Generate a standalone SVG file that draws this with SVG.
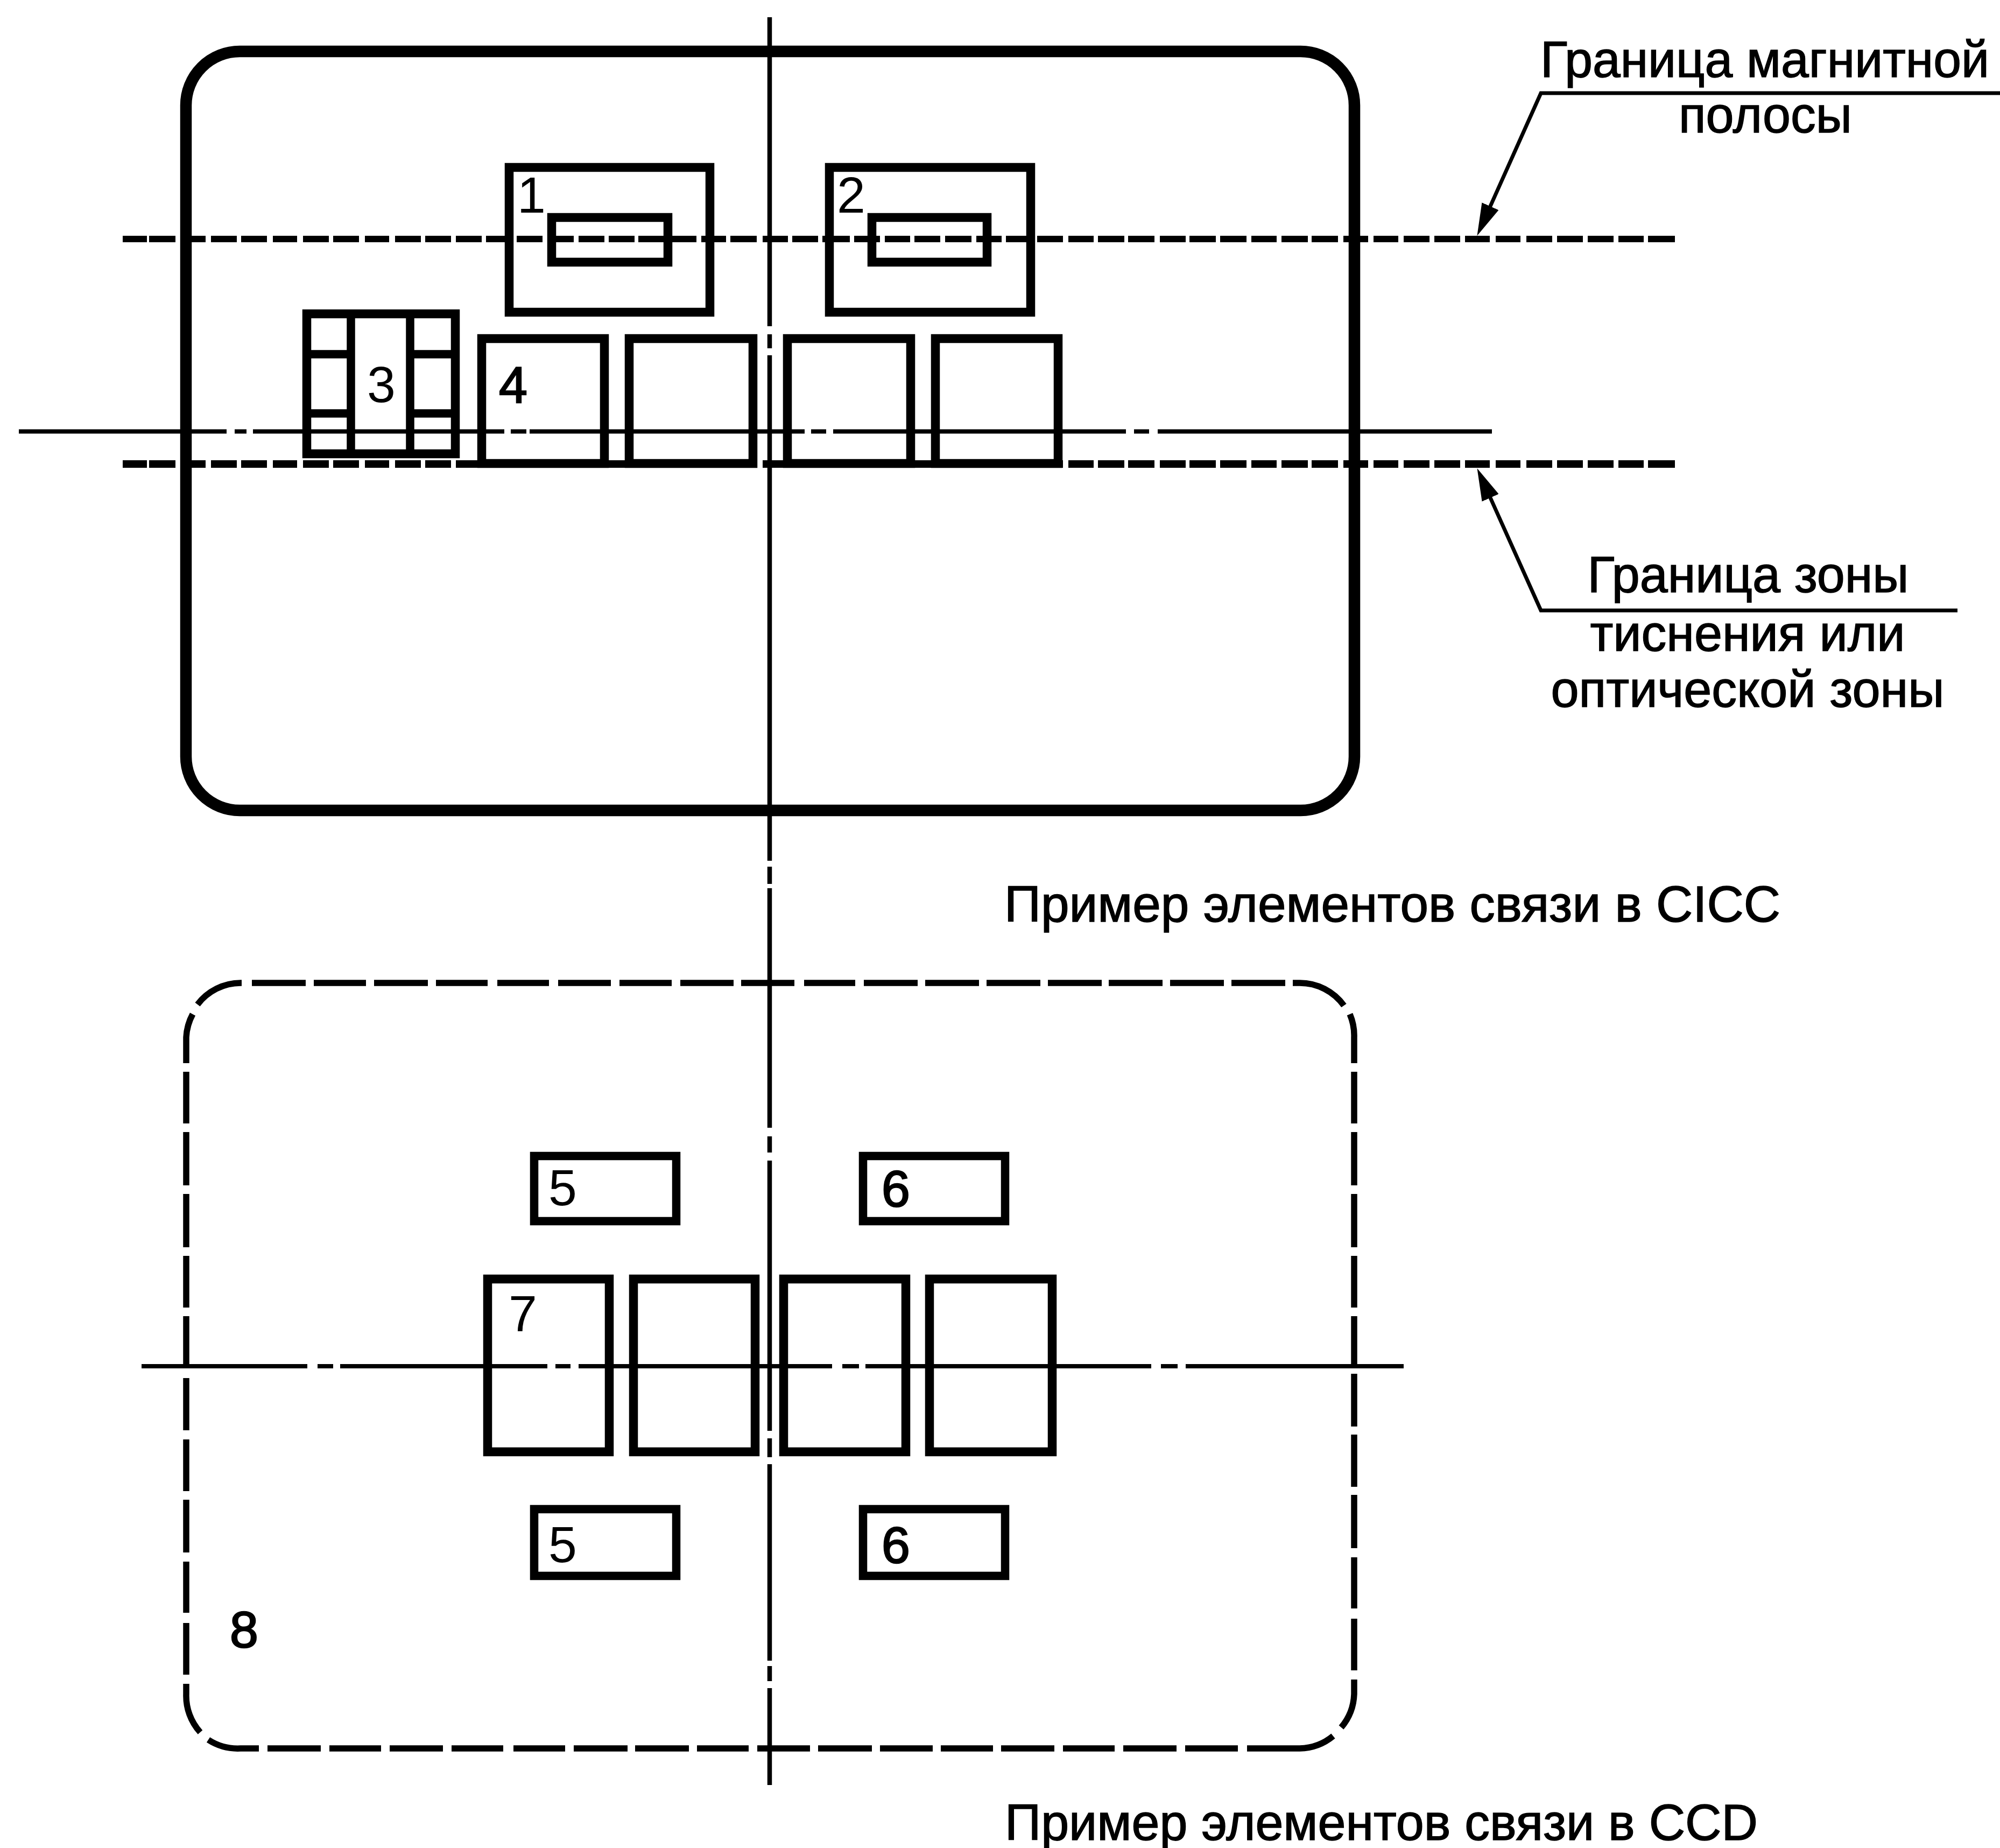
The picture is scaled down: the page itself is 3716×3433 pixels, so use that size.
<svg xmlns="http://www.w3.org/2000/svg" xmlns:xlink="http://www.w3.org/1999/xlink" width="3716" height="3433" viewBox="0 0 3716 3433">
<style>
text{font-family:"Liberation Sans",Arial,sans-serif;font-size:95px;fill:#000}
.lbl{stroke:#000;stroke-width:1.5px}
.mid{text-anchor:middle}
.heavy{stroke:#000;stroke-width:2.5px}
.box{fill:none;stroke:#000;stroke-width:16.5}
.thin{fill:none;stroke:#000;stroke-width:15.5}
.ln{fill:none;stroke:#000}
.axis{stroke-width:8.5}
.center{stroke-width:8}
.leader{stroke-width:7}
</style>
<defs>
<marker id="arrow" markerUnits="userSpaceOnUse" markerWidth="60" markerHeight="34" viewBox="0 0 60 34" refX="30" refY="17" orient="auto"><path d="M0 0L60 17L0 34Z" fill="#000"/></marker>
<path id="dashrow" d="M228 0H273M277 0H326M336 0H382M392 0H440M448 0H496M507 0H552M563 0H611M619 0H667M678 0H723M734 0H782M790 0H838M847 0H895M903 0H951M960 0H1008M1018 0H1066M1075 0H1123M1131 0H1179M1186 0H1234M1242 0H1294M1303 0H1349M1357 0H1406M1417 0H1464M1472 0H1520M1528 0H1579M1587 0H1635M1644 0H1691M1699 0H1747M1756 0H1805M1814 0H1861M1869 0H1919M1927 0H1975M1985 0H2032M2040 0H2089M2096 0H2145M2155 0H2203M2210 0H2259M2267 0H2316M2325 0H2372M2381 0H2430M2437 0H2486M2496 0H2542M2552 0H2598M2608 0H2656M2665 0H2713M2722 0H2768M2779 0H2825M2836 0H2884M2893 0H2941M2950 0H2998M3007 0H3054M3062 0H3112"/>
</defs>
<rect width="3716" height="3433" fill="#fff"/>
<g id="connectors">
<use xlink:href="#dashrow" href="#dashrow" y="444" class="ln" style="stroke-width:12"/>
<use xlink:href="#dashrow" href="#dashrow" y="862" class="ln" style="stroke-width:14"/>
<path class="ln center" d="M35 801.5H421M436 801.5H458M470 801.5H937M949 801.5H978M984 801.5H1495M1507 801.5H1535M1548 801.5H2092M2107 801.5H2135M2151 801.5H2772"/>
<path class="ln center" d="M263 2538H571M590 2538H619M632 2538H1017M1032 2538H1060M1075 2538H1546M1565 2538H1596M1608 2538H2139M2157 2538H2188M2203 2538H2608"/>
<path class="ln axis" d="M1430 32V606M1430 621V647M1430 660V1599M1430 1610V1642M1430 1650V2095M1430 2111V2141M1430 2156V2658M1430 2672V2707M1430 2720V3085M1430 3095V3123M1430 3136V3316"/>
<path class="ln leader" d="M3716 173H2863L2756.7 410.6" marker-end="url(#arrow)"/>
<path class="ln leader" d="M3637 1134H2863L2756.8 897.4" marker-end="url(#arrow)"/>
</g>
<g id="card-cicc"><rect x="345.5" y="95.5" width="2171" height="1410" rx="100" ry="100" fill="none" stroke="#000" stroke-width="21.5"/></g>
<g id="card-ccd"><path class="ln" style="stroke-width:11.5" d="M468 1826H568M583 1826H680M695 1826H795M810 1826H906M924 1826H1020M1037 1826H1135M1151 1826H1248M1264 1826H1363M1377 1826H1476M1494 1826H1589M1605 1826H1705M1719 1826H1819M1833 1826H1933M1947 1826H2047M2060 1826H2160M2174 1826H2274M2288 1826H2388M2402 1826H2415A101 101 0 0 1 2497 1868M2508 1884A101 101 0 0 1 2516 1927V1975M2516 1991V2087M2516 2103V2202M2516 2218V2317M2516 2333V2429M2516 2445V2535M2516 2552V2650M2516 2665V2762M2516 2777V2876M2516 2893V2988M2516 3007V3103M2516 3120V3147A101 101 0 0 1 2492 3209M2477 3225A101 101 0 0 1 2415 3248H2317M2300 3248H2202M2186 3248H2087M2071 3248H1975M1959 3248H1860M1845 3248H1748M1733 3248H1635M1620 3248H1520M1505 3248H1407M1391 3248H1295M1280 3248H1180M1166 3248H1066M1050 3248H954M935 3248H839M823 3248H724M708 3248H612M596 3248H497M481 3248H447A101 101 0 0 1 387 3232M372 3218A101 101 0 0 1 346 3147V3128M346 3111V3015M346 2996V2901M346 2884V2786M346 2770V2674M346 2657V2560M346 2542V2445M346 2429V2333M346 2317V2218M346 2202V2103M346 2087V1991M346 1975V1927A101 101 0 0 1 358 1884M367 1866A101 101 0 0 1 447 1826H449"/></g>
<g id="node-1"><rect class="box" x="946" y="311" width="373" height="269"/><rect class="box" x="1025" y="404" width="216" height="83"/><text x="961" y="395">1</text></g>
<g id="node-2"><rect class="box" x="1541" y="311" width="374" height="269"/><rect class="box" x="1620" y="404" width="214" height="83"/><text x="1555" y="395">2</text></g>
<g id="node-3"><rect class="box" x="570" y="583" width="276" height="260"/><path class="thin" d="M652 582V844M762 582V844M570 658H652M762 658H846M570 768H652M762 768H846"/><text x="682" y="747">3</text></g>
<g id="node-4a"><rect class="box" x="895" y="629" width="228" height="232"/><text class="heavy" x="927" y="748">4</text></g>
<g id="node-4b"><rect class="box" x="1169" y="629" width="230" height="232"/></g>
<g id="node-4c"><rect class="box" x="1463" y="629" width="229" height="232"/></g>
<g id="node-4d"><rect class="box" x="1738" y="629" width="228" height="232"/></g>
<g id="node-5a"><rect class="thin" x="992.5" y="2147.5" width="264" height="121"/><text x="1019" y="2239">5</text></g>
<g id="node-6a"><rect class="thin" x="1603.5" y="2147.5" width="264" height="121"/><text class="heavy" x="1638" y="2241">6</text></g>
<g id="node-7a"><rect class="box" x="906" y="2376" width="226" height="321"/><text x="945" y="2473">7</text></g>
<g id="node-7b"><rect class="box" x="1177" y="2376" width="226" height="321"/></g>
<g id="node-7c"><rect class="box" x="1456" y="2376" width="227" height="321"/></g>
<g id="node-7d"><rect class="box" x="1727" y="2376" width="228" height="321"/></g>
<g id="node-5b"><rect class="thin" x="992.5" y="2803.5" width="264" height="124"/><text x="1019" y="2902">5</text></g>
<g id="node-6b"><rect class="thin" x="1603.5" y="2803.5" width="264" height="124"/><text class="heavy" x="1638" y="2903">6</text></g>
<g id="node-8"><text class="heavy" x="427" y="3060">8</text></g>
<g id="labels">
<text class="lbl" x="2862" y="143" textLength="834" lengthAdjust="spacingAndGlyphs">Граница магнитной</text>
<text class="lbl mid" x="3280" y="246" textLength="322" lengthAdjust="spacingAndGlyphs">полосы</text>
<text class="lbl mid" x="3248" y="1100" textLength="597" lengthAdjust="spacingAndGlyphs">Граница зоны</text>
<text class="lbl mid" x="3247" y="1209" textLength="585" lengthAdjust="spacingAndGlyphs">тиснения или</text>
<text class="lbl mid" x="3247" y="1313" textLength="731" lengthAdjust="spacingAndGlyphs">оптической зоны</text>
<text class="lbl" x="1866" y="1712" textLength="1442" lengthAdjust="spacingAndGlyphs">Пример элементов связи в CICC</text>
<text class="lbl" x="1867" y="3418" textLength="1399" lengthAdjust="spacingAndGlyphs">Пример элементов связи в CCD</text>
</g>
</svg>
